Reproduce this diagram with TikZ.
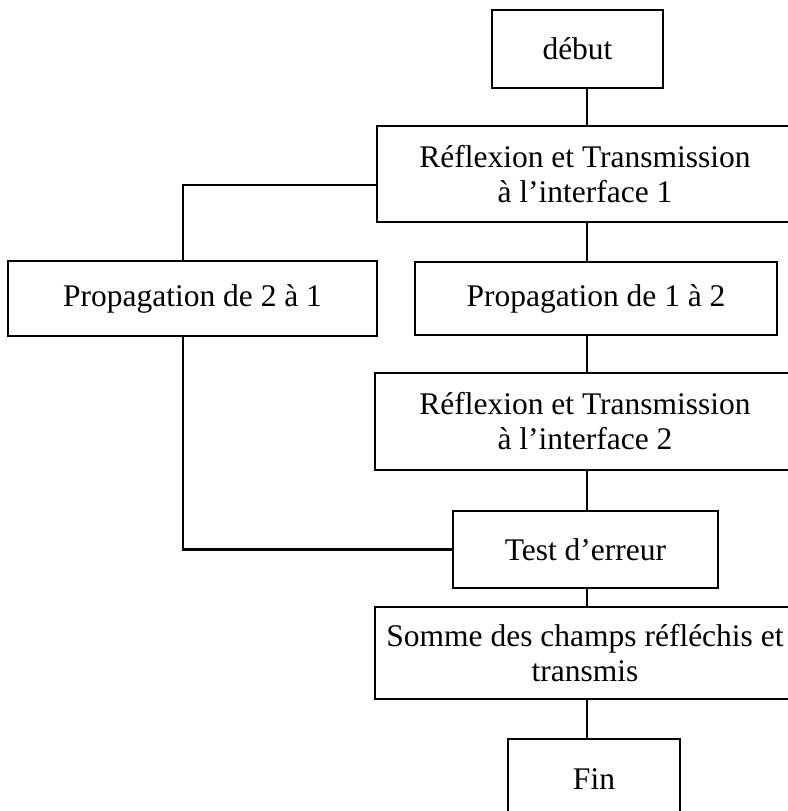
\documentclass[tikz,border=0pt]{standalone}
\usepackage{fontspec}
\setmainfont{Liberation Serif}
\usepackage{tikz}
\tikzset{box/.style={draw,line width=1.2pt,align=center,inner sep=0pt},
  link/.style={line width=1.2pt}}

\begin{document}
\begin{tikzpicture}[x=0.5pt,y=-0.5pt,font=\fontsize{15.75}{17.5}\selectfont]
\useasboundingbox (0,0) rectangle (788,811);
\clip (0,0) rectangle (788,811);
\coordinate (spine) at (587,0);
\coordinate (lft) at (183,0);
\node [box,minimum width=85.5pt,minimum height=39pt] (debut) at (577.5,49) {début};
\node [box,minimum width=208pt,minimum height=48pt] (ref1) at (585,174) {Réflexion et Transmission\\à l’interface 1};
\node [box,minimum width=184.5pt,minimum height=37.5pt] (prop21) at (192.5,298.5) {Propagation de 2 à 1};
\node [box,minimum width=181pt,minimum height=36.5pt] (prop12) at (596,298.5) {Propagation de 1 à 2};
\node [box,minimum width=210pt,minimum height=48.5pt] (ref2) at (585,421.5) {Réflexion et Transmission\\à l’interface 2};
\node [box,minimum width=132.5pt,minimum height=38.5pt] (test) at (585.5,549.5) {Test d’erreur};
\node [box,minimum width=210pt,minimum height=46pt] (somme) at (585,653) {Somme des champs réfléchis et\\transmis};
\node [box,minimum width=86pt,minimum height=40.5pt] (fin) at (594,779.5) {Fin};
\draw [link] (debut.south -| spine) -- (ref1.north -| spine);
\draw [link] (ref1.south -| spine) -- (prop12.north -| spine);
\draw [link] (prop12.south -| spine) -- (ref2.north -| spine);
\draw [link] (ref2.south -| spine) -- (test.north -| spine);
\draw [link] (test.south -| spine) -- (somme.north -| spine);
\draw [link] (somme.south -| spine) -- (fin.north -| spine);
\draw [link] ([yshift=-5.5pt]ref1.west) -| (prop21.north -| lft);
\draw [link] (prop21.south -| lft) |- (test.west);
\end{tikzpicture}
\end{document}
